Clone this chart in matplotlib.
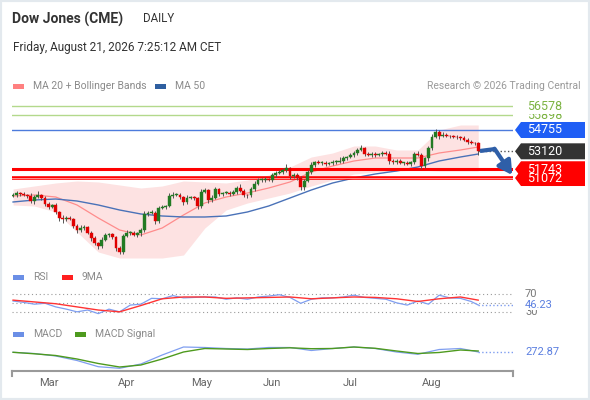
import numpy as np
import pandas as pd
import matplotlib
matplotlib.use("Agg")
import matplotlib.pyplot as plt
from matplotlib.patches import Polygon, Rectangle

plt.rcParams['font.family'] = ['Roboto', 'DejaVu Sans']

# daily closes, Feb -> Aug 20 2026
closes = [
    49770, 49920, 49850, 49760, 49700, 49300, 49620, 49780, 49540, 49080,
    48850, 49000, 48460, 48000, 47930, 48005, 47930, 47390, 47085, 47238,
    47315, 46855, 46470, 46090, 45860, 46320, 46700, 46740, 46548, 45700,
    45400, 46625, 46855, 46890, 46700, 46855, 47085, 48310, 48390, 48420,
    47775, 48770, 48850, 48930, 49690, 49770, 49800, 49620, 49230, 49540,
    49580, 49520, 48930, 50000, 50150, 49390, 49540, 50230, 49850, 49920,
    49950, 49850, 50000, 50300, 50080, 49770, 49740, 50230, 50610, 50920,
    50920, 51000, 50920, 51300, 51460, 51530, 51690, 51840, 51230, 51300,
    51075, 50380, 50840, 51530, 52070, 52300, 52220, 52260, 52150, 52220,
    52300, 52330, 52380, 52610, 52680, 52840, 52990, 53220, 53370, 52910,
    52840, 52910, 52840, 52910, 52990, 52910, 52380, 52300, 52380, 52220,
    52220, 52150, 52300, 52910, 52840, 51990, 52600, 53370, 54220, 54600,
    54300, 54370, 54300, 54280, 54220, 54200, 54140, 53990, 53840, 53760,
    53720, 53120]
first_open = 49700
wick_up = [
    150, 120, 100, 150, 100, 200, 150, 300, 100, 120, 150, 100, 150, 100, 200, 120, 150, 100, 150, 200,
    150, 100, 150, 120, 100, 200, 150, 120, 150, 100, 150, 150, 200, 100, 150, 100, 150, 250, 150, 200,
    100, 150, 120, 100, 250, 200, 150, 150, 100, 200, 150, 150, 100, 200, 150, 100, 200, 150, 100, 100,
    150, 100, 150, 150, 300, 150, 100, 150, 200, 150, 150, 120, 100, 150, 150, 120, 150, 300, 100, 150,
    120, 150, 150, 150, 200, 100, 150, 120, 150, 100, 120, 150, 300, 150, 100, 150, 120, 150, 200, 100,
    150, 120, 150, 100, 150, 120, 200, 150, 120, 150, 100, 120, 100, 150, 200, 150, 100, 150, 200, 250,
    150, 200, 150, 100, 120, 150, 100, 120, 150, 150, 100, 150]
wick_dn = [
    100, 150, 120, 100, 150, 120, 200, 100, 150, 120, 150, 100, 150, 200, 300, 150, 100, 150, 200, 120,
    150, 100, 200, 150, 250, 150, 100, 120, 150, 200, 150, 150, 100, 120, 100, 150, 200, 150, 120, 100,
    200, 150, 100, 150, 100, 120, 100, 150, 200, 120, 100, 150, 200, 150, 100, 200, 150, 100, 120, 150,
    100, 150, 100, 120, 100, 150, 200, 100, 150, 100, 120, 150, 100, 120, 150, 100, 150, 120, 200, 150,
    150, 200, 250, 100, 120, 150, 100, 150, 120, 100, 150, 120, 100, 150, 120, 100, 150, 120, 100, 150,
    100, 150, 120, 100, 150, 100, 200, 150, 120, 100, 150, 100, 120, 150, 100, 200, 150, 200, 150, 100,
    200, 100, 120, 150, 100, 150, 120, 100, 150, 100, 150, 250]

# moving averages / bands read every 6 sessions
ma_idx = [0, 6, 12, 18, 24, 30, 36, 42, 48, 54, 60, 66, 72, 78, 84, 90, 96, 102, 108, 114, 120, 126, 131]
ma20 = [49693, 49770, 49616, 49003, 48005, 47085, 46702, 47238, 48236, 49156, 49616, 49923,
        50306, 50767, 51534, 51994, 52377, 52607, 52607, 52607, 52991, 53221, 53451]
bb_up = [50230, 50460, 50690, 50843, 50767, 50537, 50306, 50460, 50843, 50767, 50690, 50920,
         51303, 51917, 52684, 52991, 53528, 53528, 53221, 53221, 54755, 55139, 55139]
bb_dn = [49003, 48926, 48466, 46932, 45398, 44937, 44937, 44937, 45168, 47238, 48619, 49156,
         49540, 49923, 50460, 50920, 51380, 51534, 51610, 51687, 51610, 51610, 51610]
ma50 = [49233, 49386, 49463, 49309, 49003, 48619, 48312, 48159, 48082, 48082, 48159, 48466,
        48926, 49540, 50153, 50690, 51073, 51380, 51610, 51917, 52377, 52684, 52914]

rsi_idx = list(range(0, 130, 3)) + [131]
rsi = [55, 52, 48, 50, 42, 37, 31, 35, 27, 37, 31, 46, 48, 61, 60, 67, 62, 63, 64, 64,
       59, 62, 59, 64, 66, 69, 63, 50, 59, 62, 62, 64, 68, 63, 61, 59, 51, 46, 55, 48,
       68, 62, 61, 54, 46.23]
rsi_ma = [57, 53, 49, 42, 35, 31, 45, 60, 64, 64, 61, 62, 63, 64, 60, 62, 64, 63, 60, 54, 60, 64, 57]
macd = [262, 221, 136, -17, -228, -282, -136, 170, 442, 425, 391, 374, 425, 425, 323, 391,
        442, 391, 272, 194, 357, 391, 272.87]
macd_sig = [262, 211, 153, 34, -119, -238, -170, 34, 272, 391, 374, 357, 391, 415, 384, 391,
            442, 398, 306, 221, 255, 340, 306]

res_levels = [56578, 55898]
pivot = 54755
sup_levels = [51743, 51072]
last_price = 53120
months = ['Mar', 'Apr', 'May', 'Jun', 'Jul', 'Aug']
holidays = ['2026-04-03', '2026-05-25']

GREEN = '#237a23'
RED = '#e00000'
GRAY = '#8a8a8a'

fig = plt.figure(figsize=(5.9, 4.0), dpi=100)
W, H = 590.0, 400.0
X0, X1 = 12, 513

def box(y_top, y_bot):
    return [X0 / W, 1 - y_bot / H, (X1 - X0) / W, (y_bot - y_top) / H]

ax = fig.add_axes(box(97, 262))
ax.set_xlim(-0.3, 140.8)
ax.set_ylim(44630, 57286)
ax.axis('off')

# bands and averages
ax.fill_between(ma_idx, bb_dn, bb_up, color='#fde2e2', lw=0, zorder=1)
ax.plot(ma_idx, ma20, color='#ff8c8c', lw=0.9, zorder=2)
ax.plot(ma_idx, ma50, color='#4a72b8', lw=1.0, zorder=2)

# level lines
for lv in res_levels:
    ax.axhline(lv, color='#b3d98c', lw=1.0, zorder=1)
ax.axhline(pivot, color='#4d7bdc', lw=1.0, zorder=1)
ax.axhline(sup_levels[0], color='#ff0000', lw=2.2, zorder=3)
ax.axhline(sup_levels[1], color='#ff0000', lw=2.6, zorder=3)
ax.axhline(sup_levels[1], color='#ff8f8f', lw=0.7, zorder=3)

# candles
opens = [first_open] + closes[:-1]
for i, (o, c) in enumerate(zip(opens, closes)):
    hi = max(o, c) + wick_up[i]
    lo = min(o, c) - wick_dn[i]
    col = GREEN if c >= o else RED
    ax.vlines(i, lo, hi, color='#555555', lw=0.7, zorder=4)
    ax.bar(i, max(abs(c - o), 45), bottom=min(o, c), width=0.8, color=col,
           edgecolor=col, lw=0.3, zorder=5)

ax.plot([131, 140.8], [last_price, last_price], ls=':', color='#555555', lw=1, zorder=3)

# projection arrow
ax.plot([131.5, 135.8], [53145, 53298], color='#2f5fa8', lw=3, solid_capstyle='butt', zorder=6)
ax.annotate('', xy=(140.6, 51300), xytext=(135.6, 53320),
            arrowprops=dict(arrowstyle='-|>,head_length=0.8,head_width=0.45', lw=3,
                            color='#2f5fa8', shrinkA=0, shrinkB=0), zorder=6,
            annotation_clip=False)

# RSI panel
rax = fig.add_axes(box(286, 318))
rax.set_xlim(-0.3, 140.8)
rax.set_ylim(17.3, 88.4)
rax.axis('off')
for lv in (70, 50, 30):
    rax.axhline(lv, ls=(0, (1, 2.5)), color='#9a9a9a', lw=0.8)
rax.plot(rsi_idx, rsi, color='#7f9ef0', lw=0.9)
rax.plot(ma_idx, rsi_ma, color='#ff3333', lw=1.0)
rax.plot([131, 140.8], [rsi[-1], rsi[-1]], ls=':', color='#7f9ef0', lw=1)

# MACD panel
mx = fig.add_axes(box(342, 371))
mx.set_xlim(-0.3, 140.8)
mx.set_ylim(-374, 612)
for s in ('top', 'left', 'right'):
    mx.spines[s].set_visible(False)
mx.spines['bottom'].set_color('#9a9a9a')
mx.spines['bottom'].set_linewidth(1.5)
mx.set_yticks([])
mx.plot(ma_idx, macd, color='#7f9ef0', lw=0.9)
mx.plot(ma_idx, macd_sig, color='#4e9a1e', lw=1.0)
mx.plot([131, 140.8], [macd[-1], macd[-1]], ls=':', color='#7f9ef0', lw=1)
for xe in (-0.3, 140.8):
    mx.plot([xe, xe], [0, -0.17], color='#9a9a9a', lw=1.5,
            transform=mx.get_xaxis_transform(), clip_on=False)

dates = pd.bdate_range(end='2026-08-20', periods=len(closes), freq='C', holidays=holidays)
pos = [int(np.argmax(dates.month == m)) for m in range(3, 9)]
mx.set_xticks(pos)
mx.set_xticklabels(months, color='#666666', fontsize=8)
mx.tick_params(axis='x', length=0, pad=5)

# overlay in pixel coords for labels
ov = fig.add_axes([0, 0, 1, 1], zorder=10)
ov.set_xlim(0, W)
ov.set_ylim(0, H)
ov.axis('off')

def yd(a, v):
    return a.transData.transform((0, v))[1]

def tag(a, v, face, txt_col='white'):
    y = yd(a, v)
    pts = [(515, y), (521, y + 8), (585, y + 8), (585, y - 8), (521, y - 8)]
    ov.add_patch(Polygon(pts, closed=True, facecolor=face, edgecolor='none'))
    ov.text(527, y, f'{v:g}', color=txt_col, fontsize=9, va='center', ha='left')

ov.text(527, yd(ax, res_levels[1]), str(res_levels[1]), color='#7cb342', fontsize=9, va='center')
ov.text(527, yd(ax, res_levels[0]), str(res_levels[0]), color='#7cb342', fontsize=9, va='center',
        bbox=dict(facecolor='white', edgecolor='none', pad=0.6))
tag(ax, pivot, '#1f5ef5')
tag(ax, last_price, '#333333')
tag(ax, sup_levels[0], '#ff0000')
tag(ax, sup_levels[1], '#ff0000')

ov.text(525, yd(rax, 30), '30', color='#777777', fontsize=8, va='center')
ov.text(525, yd(rax, 70), '70', color='#777777', fontsize=8, va='center')
ov.text(525, yd(rax, rsi[-1]), f'{rsi[-1]:.2f}', color='#5b7fe0', fontsize=8, va='center',
        bbox=dict(facecolor='white', edgecolor='none', pad=0.3))
ov.text(525, yd(mx, macd[-1]), f'{macd[-1]:.2f}', color='#5b7fe0', fontsize=8, va='center')

# header
ov.text(12, H - 19, 'Dow Jones (CME)', fontsize=10, fontweight='bold', color='#333333', va='center')
ov.text(143, H - 19, 'DAILY', fontsize=8.3, color='#333333', va='center')
ov.text(13, H - 48, 'Friday, August 21, 2026 7:25:12 AM CET', fontsize=8.5, color='#333333', va='center')

def legend_item(x, y, col, label):
    ov.add_patch(Rectangle((x, H - y - 2.5), 11, 5, facecolor=col, edgecolor='none'))
    ov.text(x + 20, H - y, label, fontsize=7.5, color=GRAY, va='center')

legend_item(13, 86, '#ff8080', 'MA 20 + Bollinger Bands')
legend_item(155, 86, '#2f5fa0', 'MA 50')
ov.text(581, H - 86, 'Research \u00a9 2026 Trading Central', fontsize=7.5, color='#9a9a9a',
        va='center', ha='right')
legend_item(13, 277, '#6b8fe6', 'RSI')
legend_item(62, 277, '#ff2020', '9MA')
legend_item(13, 334, '#6b8fe6', 'MACD')
legend_item(75, 334, '#4e9a1e', 'MACD Signal')

fig.patches.append(Rectangle((0, 0), 1, 1, transform=fig.transFigure, fill=False,
                             edgecolor='#e3e9ee', lw=3))

fig.savefig('out.png', dpi=100)
